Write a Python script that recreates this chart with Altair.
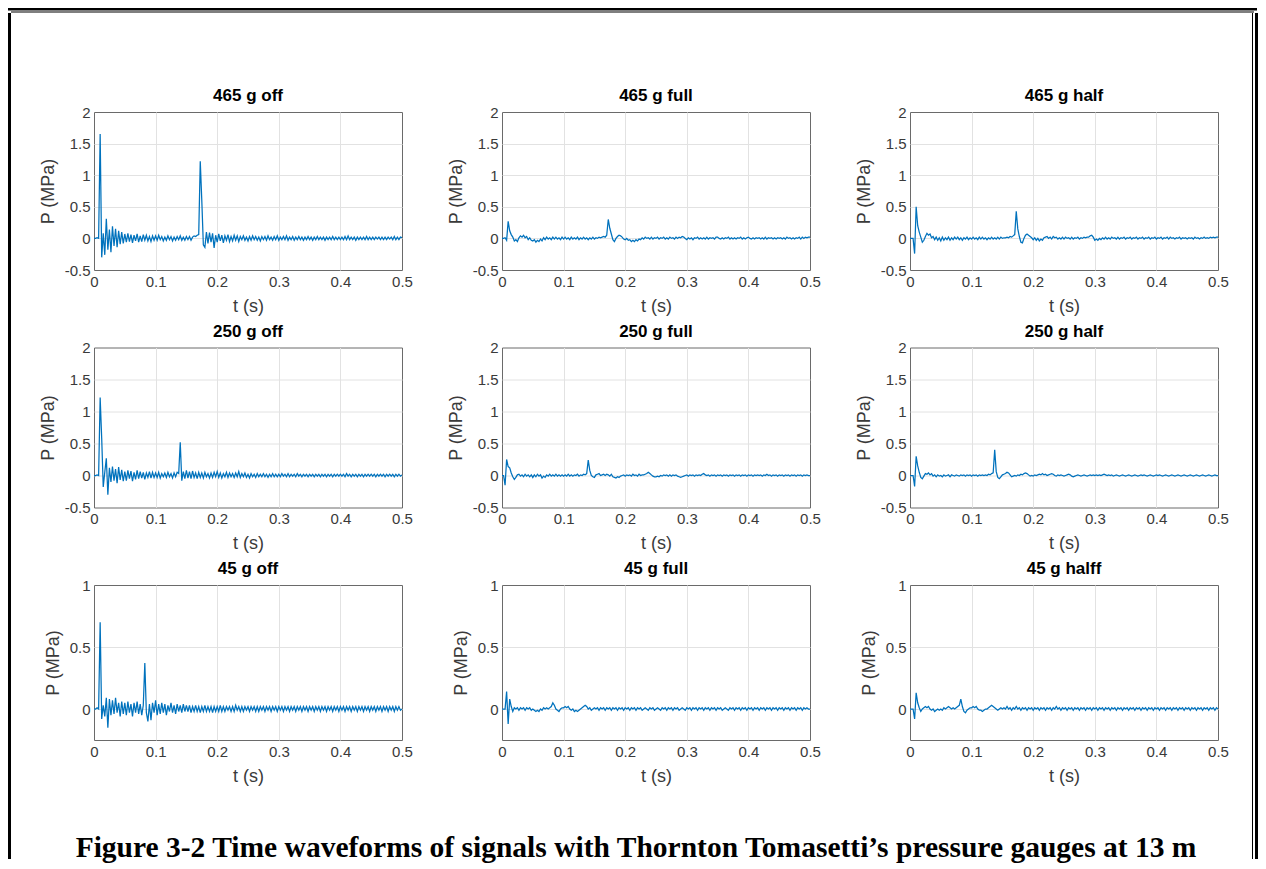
import altair as alt
import pandas as pd
import numpy as np

# sampling step of the digitised waveforms (s)
T_STEP = 0.0025

panel_titles = ["465 g off", "465 g full", "465 g half",
                "250 g off", "250 g full", "250 g half",
                "45 g off", "45 g full", "45 g halff"]

x_ticks = [0, 0.1, 0.2, 0.3, 0.4, 0.5]
y_ticks_big = [-0.5, 0, 0.5, 1, 1.5, 2]
y_ticks_small = [0, 0.5, 1]
y_dom_big = [-0.5, 2]
y_dom_small = [-0.25, 1]

caption_text = "Figure 3-2 Time waveforms of signals with Thornton Tomasetti’s pressure gauges at 13 m"

# pressure values in units of 0.01 MPa, one value per T_STEP
p_465_off = [
    0, 0, 1, 0, 165, -30, 8, -26, 31, -18, 14, -22, 19, -12, 15, -14, 12, -9, 10, -8,
    7, -6, 8, -5, 6, -7, 5, -4, 7, -6, 4, -5, 6, -3, 5, -4, 3, -5, 4, -3,
    4, -3, 5, -2, 3, -4, 2, -3, 4, -2, 3, -4, 2, -3, 3, -2, 4, -3, 2, -3,
    3, -2, 3, -3, 2, 4, 3, 5, 6, 122, 60, -10, -14, 10, -8, 9, -6, 8, -15, 5,
    -6, 7, -4, 5, -7, 4, -3, 6, -5, 3, -4, 5, -3, 4, -5, 3, -2, 4, -3, 2,
    -4, 3, -3, 4, -2, 3, -3, 2, -4, 3, -2, 3, -3, 4, -2, 2, -3, 3, -2, 4,
    -3, 2, -2, 3, -2, 4, -3, 2, -2, 3, -3, 2, -2, 3, -2, 2, -3, 2, -2, 3,
    -2, 2, -3, 2, -2, 3, -2, 2, -2, 2, -3, 2, -2, 2, -2, 3, -2, 2, -2, 2,
    -2, 2, -2, 3, -2, 4, -2, 2, -2, 2, -3, 2, -2, 2, -2, 2, -2, 3, -2, 2,
    -2, 2, -2, 2, -1, 2, -2, 2, -2, 2, -2, 2, -1, 2, -2, 3, -2, 2, -2, 2,
    1]
p_465_full = [
    0, 0, 1, -3, 27, 12, 6, 2, -4, -2, -5, 1, 4, 2, 5, 1, 3, -2, 1, -3,
    -4, -2, -6, -3, -5, -1, -4, 1, -2, 2, -1, 1, -2, 2, -1, 2, -1, 1, -2, 2,
    -1, 2, -1, 1, -2, 2, -1, 1, -1, 2, -2, 1, -1, 2, -1, 1, -2, 1, -1, 2,
    -1, 1, 0, 2, 1, 2, 3, 2, 5, 30, 16, 7, -2, -5, 0, 3, 5, 4, 2, -1,
    -2, 0, -3, -2, -5, -3, -5, -2, -4, -1, -2, 1, -1, 2, 0, 1, -1, 2, -1, 1,
    0, 2, -1, 1, 0, 2, -1, 1, -1, 2, 0, 1, -1, 2, 0, 2, 1, 3, 2, 0,
    -2, 1, -1, 1, -2, 1, 0, 2, -1, 1, -1, 1, -1, 2, -1, 1, 0, 1, -1, 2,
    2, 0, -1, 1, -1, 1, 0, 2, -1, 1, -1, 1, -1, 1, 0, 2, -1, 1, -1, 1,
    2, 0, -1, 1, -1, 1, 0, 1, -1, 1, -1, 2, -1, 1, 0, 1, -1, 1, -1, 1,
    0, 1, -1, 1, -1, 2, 0, 1, -1, 1, -1, 1, 0, 2, -1, 2, 0, 2, 1, 2,
    2]
p_465_half = [
    0, 0, 0, -24, 50, 20, 10, 2, -6, -3, 3, 8, 5, 7, 1, 3, -2, 2, -3, 1,
    -4, 2, -3, 1, -2, 2, -3, 1, -2, 2, -1, 2, -2, 1, -3, 1, -1, 2, -2, 1,
    -1, 2, -1, 1, -2, 2, -1, 2, -1, 1, -2, 1, -1, 2, -1, 1, -1, 2, -1, 2,
    0, 1, 1, 2, 1, 3, 2, 4, 6, 43, 15, 3, -6, -7, 0, 5, 7, 5, 3, 1,
    -2, 1, -3, 0, -4, -1, -3, 1, 2, 3, 0, 2, -1, 3, 1, 2, -1, 1, -1, 2,
    -1, 2, 0, 1, -1, 2, -1, 1, 0, 2, -1, 1, 0, 2, 1, 2, 2, 4, 5, 2,
    -3, -1, -3, 0, -2, 1, -1, 2, -1, 1, -1, 2, 0, 1, -1, 2, -1, 1, 0, 2,
    -1, 1, 0, 2, -1, 1, 0, 2, -1, 1, 0, 2, -1, 1, 0, 2, -1, 1, 0, 2,
    -1, 1, 0, 2, -1, 1, 0, 2, -1, 2, 0, 1, -1, 1, 0, 2, -1, 1, 0, 1,
    -1, 1, 0, 1, -1, 2, 0, 1, -1, 1, 0, 2, 0, 1, 0, 2, 1, 2, 1, 2,
    2]
p_250_off = [
    0, 0, 1, 0, 122, 58, -18, 5, 27, -30, 12, -10, 14, -8, 10, -12, 13, -7, 9, -9,
    6, -8, 8, -5, 7, -9, 5, -6, 8, -5, 6, -4, 5, -6, 4, -3, 6, -4, 5, -3,
    4, -3, 5, -4, 3, -2, 4, -3, 5, -2, 3, -4, 4, -2, 5, 3, 52, -8, 6, -5,
    8, -4, 6, -5, 7, -3, 4, -5, 5, -3, 4, -4, 5, -2, 3, -4, 4, -3, 5, -2,
    6, -3, 4, -4, 3, -2, 5, -3, 4, -2, 3, -3, 4, -2, 6, -3, 3, -2, 4, -3,
    2, -4, 3, -2, 2, -3, 3, -2, 2, -2, 3, -2, 2, -3, 2, -2, 3, -2, 2, -2,
    2, -2, 3, -1, 2, -2, 3, -2, 2, -1, 2, -2, 3, -1, 2, -2, 2, -1, 2, -2,
    2, -1, 2, -2, 2, -1, 2, -2, 2, -1, 2, -2, 2, -1, 2, -2, 2, -1, 2, -1,
    2, -1, 2, -2, 3, -1, 2, -2, 2, -1, 2, -2, 2, -1, 2, -2, 2, -1, 2, -1,
    2, -1, 2, -2, 2, -1, 2, -1, 2, -2, 2, -1, 2, -1, 2, -2, 2, -1, 2, -1,
    1]
p_250_full = [
    0, 0, -15, 25, 14, 12, 4, -2, -6, -3, 1, 2, -1, 1, -2, 2, -1, 1, -2, 1,
    -3, 1, -2, 2, -1, 1, -4, -1, -3, 1, -1, 2, -1, 1, -1, 2, -1, 1, -1, 1,
    -1, 1, -1, 2, -1, 1, -1, 1, 0, 2, -1, 1, 0, 2, 1, 3, 24, 8, 0, -2,
    -3, 1, 2, 3, 0, 1, 2, 0, 2, 1, -1, 2, -2, -3, -4, -2, -3, -1, 0, 1,
    -1, 1, 0, 1, -1, 2, 0, 1, -1, 2, 0, 1, 1, 2, 3, 5, 3, 1, -1, -2,
    -2, -1, -2, 0, -1, 1, 0, 1, -1, 1, -1, 1, 0, 1, -1, -2, -3, -2, -1, 0,
    1, -1, 1, 0, 1, -1, 1, 0, 1, 0, 2, 3, 1, 0, 1, -1, 1, 0, 1, -1,
    1, 0, 1, -1, 1, 0, 1, -1, 1, 0, 1, -1, 1, 0, 1, -1, 1, 0, 1, -1,
    1, 0, 1, -1, 1, 0, 1, 0, 1, -1, 1, 0, 2, 0, 1, -1, 1, 0, 1, -1,
    1, 0, 1, -1, 1, 0, 1, -1, 1, 0, 1, -1, 1, 0, 1, -1, 1, 0, 1, 0,
    0]
p_250_half = [
    0, 0, 0, -17, 30, 15, 5, -3, -5, -1, 3, 2, 4, 1, 3, -1, 1, -2, 1, -1,
    0, -2, 1, -1, 0, 1, -2, 1, 0, -1, 1, 0, -1, 1, 0, 1, -1, 1, 0, 1,
    -1, 1, 0, 1, -1, 1, 0, 1, 0, 1, 0, 2, 1, 3, 4, 40, 6, -3, -5, -2,
    1, 2, 3, 5, 4, 1, -2, -1, 0, -1, 1, 0, 2, 1, 3, 4, 3, 1, -1, 0,
    -1, 1, 0, 1, 2, 1, 3, 1, 2, 0, 1, 2, 3, 2, 0, -1, 1, 0, 1, 0,
    -1, 0, 1, 2, 1, -1, -2, -1, 0, 1, 0, -1, 0, 1, 0, -1, 0, 1, 0, 1,
    0, 1, 0, 1, 0, 1, 2, 1, 0, 1, 0, 1, -1, 0, 1, 0, -1, 0, 1, 0,
    -1, 0, 1, 0, -1, 0, 1, 0, -1, 0, 1, 0, 1, 0, -1, 0, 1, 0, -1, 0,
    1, 0, 1, 0, -1, 0, 1, 0, -1, 0, 1, 0, -1, 0, 1, 0, -1, 0, 1, 0,
    -1, 0, 1, 0, -1, 0, 1, 0, -1, 0, 1, 0, -1, 0, 1, 0, -1, 0, 1, 0,
    0]
p_45_off = [
    0, 0, 1, 0, 70, -8, 3, -6, 9, -15, 8, -5, 7, -4, 9, -3, 5, -6, 6, -4,
    5, -5, 6, -3, 4, -6, 5, -3, 6, -4, 4, -5, 3, 37, -3, -10, 4, -9, 5, -3,
    7, -5, 4, -4, 5, -3, 4, -5, 3, -2, 5, -3, 3, -4, 4, -2, 3, -3, 4, -2,
    3, -2, 3, -3, 2, -2, 3, -2, 2, -3, 2, -2, 3, -2, 2, -2, 2, -3, 2, -2,
    2, -2, 3, -2, 2, -2, 2, -1, 2, -2, 2, -2, 3, -1, 2, -2, 2, -2, 2, -1,
    2, -2, 2, -1, 2, -2, 2, -2, 2, -1, 2, -2, 2, -1, 2, -2, 2, -1, 2, -2,
    2, -1, 2, -2, 2, -1, 2, -2, 2, -1, 2, -2, 2, -1, 2, -2, 2, -1, 2, -2,
    2, -1, 2, -2, 2, -1, 2, -2, 2, -1, 2, -2, 2, -1, 2, -2, 2, -1, 2, -2,
    2, -1, 2, -2, 2, -1, 2, -2, 2, -1, 2, -2, 2, -1, 2, -2, 2, -1, 2, -2,
    2, -1, 2, -2, 2, -1, 2, -2, 2, -1, 2, -2, 2, -1, 2, -2, 2, -1, 2, -1,
    0]
p_45_full = [
    0, 0, 0, 14, -12, 8, 2, -2, 1, 0, 1, -1, 1, 0, 1, -1, 1, 0, 1, -1,
    0, -1, -2, -1, -2, 0, -1, 1, 0, 1, 0, 1, 2, 5, 3, 0, -1, -2, 0, 1,
    1, 2, 1, 2, 0, -1, 0, -2, -1, -2, -1, 0, 1, 2, 3, 2, 0, 1, -1, 0,
    1, 0, 1, -1, 1, 0, 1, -1, 1, 0, 1, -1, 1, 0, 1, -1, 1, 0, 1, -1,
    1, 0, 1, -1, 1, 0, 1, -1, 1, 0, 1, -1, 0, 1, 0, -1, 1, 0, 1, -1,
    0, 1, 0, -1, 1, 0, 1, -1, 1, 0, 1, -1, 1, 0, 1, -1, 0, 1, 0, -1,
    1, 0, 1, -1, 1, 0, 1, -1, 1, 0, 1, -1, 1, 0, 1, -1, 1, 0, 1, -1,
    1, 0, 1, -1, 0, 1, 0, -1, 1, 0, 1, -1, 1, 0, 1, -1, 1, 0, 1, -1,
    1, 0, 1, -1, 1, 0, 1, -1, 1, 0, 1, -1, 1, 0, 1, -1, 1, 0, 1, -1,
    1, 0, 1, -1, 1, 0, 1, -1, 1, 0, 1, -1, 1, 0, 1, -1, 1, 0, 1, 0,
    0]
p_45_half = [
    0, 0, 0, -8, 13, 5, 1, -2, 0, 1, 2, 1, 2, 0, -1, 0, -2, -1, 0, -1,
    0, -1, 1, 0, 1, 2, 1, 0, 1, 0, 1, 2, 3, 8, 2, -2, -3, -1, 0, 1,
    1, 2, 1, 2, 0, -1, -1, -2, -1, 0, 0, 1, 2, 3, 2, 1, 0, -1, 0, 1,
    0, 1, 0, 2, 0, 1, -1, 1, 0, 2, 0, 1, -1, 1, 0, 1, -1, 1, 0, 1,
    -1, 1, 0, 1, -1, 1, 0, 1, -1, 1, 0, 1, -1, 1, 0, 2, 0, 1, -1, 1,
    0, 1, -1, 1, 0, 1, -1, 1, 0, 1, -1, 1, 0, 1, -1, 1, 0, 1, -1, 1,
    0, 1, -1, 1, 0, 1, -1, 1, 0, 1, -1, 1, 0, 1, -1, 1, 0, 1, -1, 1,
    0, 1, -1, 1, 0, 1, -1, 1, 0, 1, -1, 1, 0, 1, -1, 1, 0, 1, -1, 1,
    0, 1, -1, 1, 0, 1, -1, 1, 0, 1, -1, 1, 0, 1, -1, 1, 0, 1, -1, 1,
    0, 1, -1, 1, 0, 1, -1, 1, 0, 1, -1, 1, 0, 1, -1, 1, 0, 1, -1, 1,
    0]

series = [p_465_off, p_465_full, p_465_half,
          p_250_off, p_250_full, p_250_half,
          p_45_off, p_45_full, p_45_half]

FONT = "Liberation Sans"
LINE_BLUE = "#0072BD"
BOX = "#6a6a6a"
GRID = "#e2e2e2"
PW = 308
ROW_H = [158, 160, 155]
NO_STROKE = alt.ViewBackground(strokeWidth=0, strokeOpacity=0)
PANEL_VIEW = alt.ViewBackground(stroke=BOX, strokeWidth=1)


def edge_grid(test):
    # hide the grid line that would sit on the axes box edge
    return {"condition": {"test": test, "value": 0}, "value": 1}


def panel(title, vals, row):
    small = row == 2
    df = pd.DataFrame({"t": np.arange(len(vals)) * T_STEP,
                       "p": np.array(vals, dtype=float) / 100.0})
    y_edge = "datum.value == 1" if small else "datum.value == -0.5 || datum.value == 2"
    return alt.Chart(df).mark_line(color=LINE_BLUE, strokeWidth=1.25, clip=True).encode(
        x=alt.X("t:Q",
                scale=alt.Scale(domain=[0, 0.5], nice=False, zero=False),
                axis=alt.Axis(values=x_ticks, title="t (s)",
                              labelExpr="'' + datum.value",
                              gridOpacity=edge_grid("datum.value == 0 || datum.value == 0.5"))),
        y=alt.Y("p:Q",
                scale=alt.Scale(domain=y_dom_small if small else y_dom_big,
                                nice=False, zero=False),
                axis=alt.Axis(values=y_ticks_small if small else y_ticks_big,
                              title="P (MPa)",
                              labelExpr="'' + datum.value",
                              gridOpacity=edge_grid(y_edge))),
    ).properties(
        width=PW, height=ROW_H[row], view=PANEL_VIEW,
        title=alt.TitleParams(title, fontSize=17, fontWeight="bold",
                              font=FONT, color="black", offset=0, frame="group"),
    )


panels = [panel(panel_titles[i], series[i], i // 3) for i in range(9)]
grid = alt.concat(*panels, columns=3, spacing={"row": 77.5, "column": 100},
                  bounds="flush")

one = pd.DataFrame({"k": [0]})


def rect_chart(w, h, rects):
    layers = [alt.Chart(one).mark_rect(color="black").encode(
        x=alt.value(x0), x2=alt.value(x1), y=alt.value(y0), y2=alt.value(y1))
        for (x0, x1, y0, y1) in rects]
    if len(layers) == 1:
        return layers[0].properties(width=w, height=h, view=NO_STROKE)
    return alt.layer(*layers).properties(width=w, height=h, view=NO_STROKE)


TOTAL_W = 1249
BODY_H = 846
top_lines = rect_chart(TOTAL_W, 5, [(0, TOTAL_W, 0, 2.5), (3, TOTAL_W - 3, 3.5, 4.5)])
left_bar = rect_chart(30, BODY_H, [(0, 3, 0, BODY_H)])
right_bar = rect_chart(29, BODY_H, [(23, 24, 0, BODY_H), (26, 29, 0, BODY_H)])

spacer = alt.Chart(one).mark_rect(opacity=0).encode(
    x=alt.value(0), x2=alt.value(1), y=alt.value(0), y2=alt.value(1)
).properties(width=1, height=73, view=NO_STROKE)

caption = alt.Chart(pd.DataFrame({"caption": [caption_text]})).mark_text(
    font="Liberation Serif", fontSize=29.5, fontWeight="bold", color="black",
    baseline="alphabetic", align="center"
).encode(
    text="caption:N", x=alt.value(542), y=alt.value(71)
).properties(width=1084, height=76, view=NO_STROKE)

middle = alt.vconcat(spacer, grid, caption, spacing=0)
body = alt.hconcat(left_bar, middle, right_bar, spacing=0)

chart = alt.vconcat(top_lines, body, spacing=0).properties(
    padding=0, background="white"
).configure_axis(
    labelFont=FONT, labelFontSize=15, labelColor="#3a3a3a", labelPadding=4,
    labelFlush=False,
    titleFont=FONT, titleFontSize=18, titleFontWeight="normal",
    titleColor="#3a3a3a",
    gridColor=GRID, gridWidth=1, domain=False, ticks=False,
).configure_axisX(
    titlePadding=8
).configure_axisY(
    titlePadding=7
)

chart.save("out.html", embed_options={"renderer": "svg", "actions": False})
